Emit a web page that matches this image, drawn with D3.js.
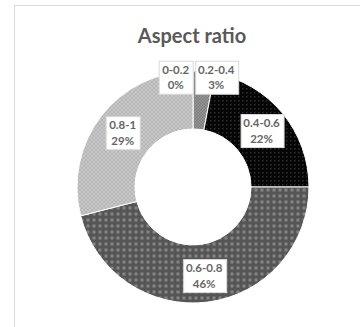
<!DOCTYPE html>
<html>
<head>
<meta charset="utf-8">
<script src="https://cdn.jsdelivr.net/npm/d3@7"></script>
<style>
  html, body { margin: 0; padding: 0; background: #fff; }
  svg { display: block; }
</style>
</head>
<body>
<svg id="chart" width="360" height="327"></svg>
<script>
// Aspect ratio distribution (percent of total)
const categories = ["0-0.2", "0.2-0.4", "0.4-0.6", "0.6-0.8", "0.8-1"];
const values = [0, 3, 22, 46, 29];
const percentLabels = ["0%", "3%", "22%", "46%", "29%"];
const title = "Aspect ratio";

const W = 360, H = 327;
const cx = 193, cy = 187;
const outerR = 116, innerR = 58;

const svg = d3.select("#chart");
const defs = svg.append("defs");

// Fill patterns for each slice
function pattern(id, size, bg, draw) {
  const p = defs.append("pattern")
    .attr("id", id).attr("patternUnits", "userSpaceOnUse")
    .attr("width", size).attr("height", size);
  p.append("rect").attr("width", size).attr("height", size).attr("fill", bg);
  draw(p);
  return `url(#${id})`;
}
const fills = [
  "#a6a6a6",
  pattern("p-02", 3, "#7a7a7a", p => {
    p.append("rect").attr("x", 0).attr("y", 0).attr("width", 1.5).attr("height", 1.5).attr("fill", "#9a9a9a");
    p.append("rect").attr("x", 1.5).attr("y", 1.5).attr("width", 1.5).attr("height", 1.5).attr("fill", "#9a9a9a");
  }),
  pattern("p-04", 4, "#050505", p => {
    p.append("rect").attr("x", 1).attr("y", 1).attr("width", 1.5).attr("height", 1.5).attr("fill", "#2e2e2e");
  }),
  pattern("p-06", 6, "#555555", p => {
    p.append("rect").attr("x", 1.5).attr("y", 1.5).attr("width", 3).attr("height", 3).attr("fill", "#858585");
  }),
  pattern("p-08", 4, "#c8c8c8", p => {
    p.append("rect").attr("x", 0).attr("y", 0).attr("width", 2).attr("height", 2).attr("fill", "#b6b6b6");
    p.append("rect").attr("x", 2).attr("y", 2).attr("width", 2).attr("height", 2).attr("fill", "#b6b6b6");
  })
];

// Chart area frame
svg.append("path")
  .attr("d", `M14.5,${H} V5.5 H${W}`)
  .attr("fill", "none").attr("stroke", "#d9d9d9").attr("stroke-width", 1);

// Title
svg.append("text")
  .attr("x", 192).attr("y", 43)
  .attr("text-anchor", "middle")
  .attr("font-family", "Lato, 'Open Sans', sans-serif")
  .attr("font-weight", "bold")
  .attr("font-size", 20)
  .attr("fill", "#595959")
  .text(title);

const data = categories.map((c, i) => ({ cat: c, value: values[i], label: percentLabels[i], fill: fills[i] }));

const pie = d3.pie().value(d => d.value).sort(null);
const arcs = pie(data);
const arc = d3.arc().innerRadius(innerR).outerRadius(outerR);

const g = svg.append("g").attr("transform", `translate(${cx},${cy})`);
g.selectAll("path.slice")
  .data(arcs)
  .join("path")
  .attr("class", "slice")
  .attr("d", arc)
  .attr("fill", d => d.data.fill)
  .attr("stroke", "#ffffff")
  .attr("stroke-width", 1);

// Data labels: centred on each slice, small slices pushed to the rim and spread apart
const labelFont = "Lato, 'Open Sans', sans-serif";
const fontSize = 11.5, lineGap = 15.5, padX = 3, padY = 3;
const midArc = d3.arc().innerRadius((innerR + outerR) / 2 + 2).outerRadius((innerR + outerR) / 2 + 2);
const rimR = outerR - 6;

const labels = arcs.map(a => {
  const small = (a.endAngle - a.startAngle) < 0.3;
  const mid = (a.startAngle + a.endAngle) / 2;
  let x, y;
  if (small) {
    x = rimR * Math.sin(mid);
    y = -rimR * Math.cos(mid);
  } else {
    [x, y] = midArc.centroid(a);
  }
  return { a, x, y, small };
});

const lg = g.append("g");
const boxes = labels.map(l => {
  const grp = lg.append("g");
  const rect = grp.append("rect")
    .attr("fill", "#ffffff").attr("stroke", "#d9d9d9").attr("stroke-width", 1);
  const t = grp.append("text")
    .attr("text-anchor", "middle")
    .attr("font-family", labelFont)
    .attr("font-weight", "bold")
    .attr("font-size", fontSize)
    .attr("fill", "#666666");
  t.append("tspan").attr("x", 0).attr("y", -2).text(l.a.data.cat);
  t.append("tspan").attr("x", 0).attr("y", -2 + lineGap).text(l.a.data.label);
  const bb = t.node().getBBox();
  const w = Math.ceil(bb.width) + padX * 2;
  const h = Math.ceil(bb.height) + padY * 2 - 2;
  return { l, grp, rect, t, w, h, bb };
});

// resolve horizontal overlaps among rim labels
const rim = boxes.filter(b => b.l.small).sort((p, q) => p.l.x - q.l.x);
if (rim.length > 1) {
  const gap = 2;
  const total = d3.sum(rim, b => b.w) + gap * (rim.length - 1);
  const centre = d3.mean(rim, b => b.l.x);
  let left = centre - total / 2;
  rim.forEach(b => { b.l.x = left + b.w / 2; left += b.w + gap; });
  const yTop = d3.min(rim, b => b.l.y);
  rim.forEach(b => { b.l.y = yTop; });
}

boxes.forEach(b => {
  const bb = b.bb;
  const ox = b.l.x, oy = b.l.y - (bb.y + bb.height / 2);
  b.grp.attr("transform", `translate(${ox},${oy})`);
  b.rect
    .attr("x", Math.round(-b.w / 2) + 0.5)
    .attr("y", Math.round(bb.y - padY + 1) + 0.5)
    .attr("width", b.w)
    .attr("height", b.h);
});
</script>
</body>
</html>
